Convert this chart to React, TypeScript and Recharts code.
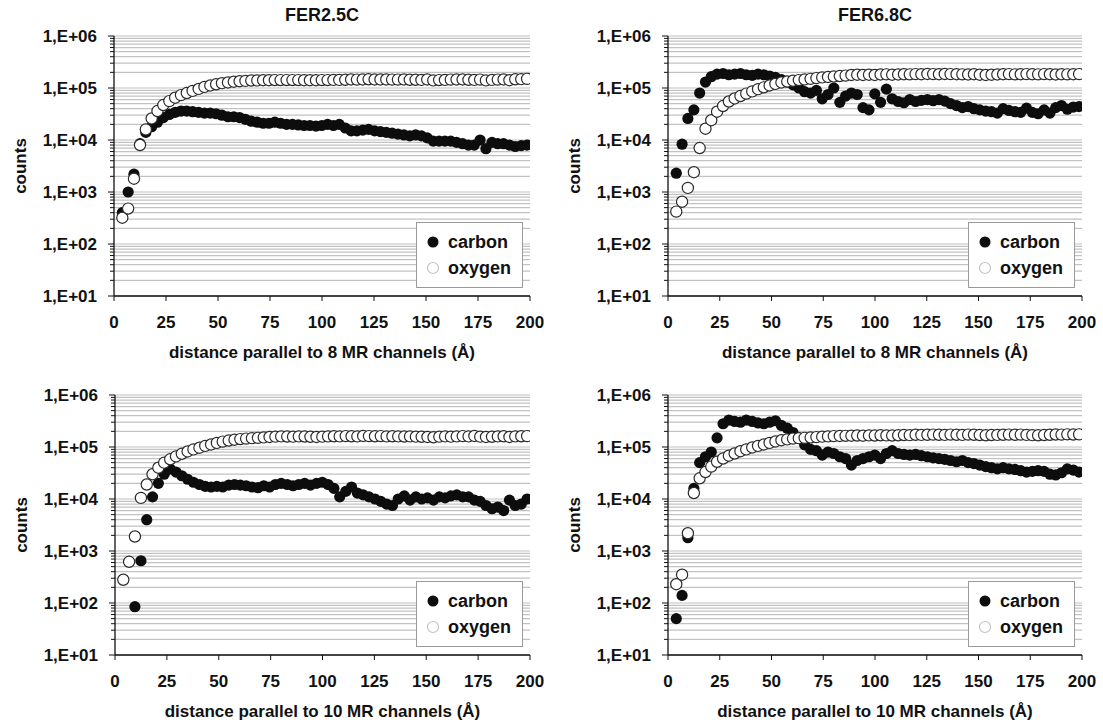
import React from 'react';
import { ScatterChart, Scatter, XAxis, YAxis, CartesianGrid, Legend, Label } from 'recharts';

// distance along the channel (Å), shared by all four profiles
const DISTANCE = [4.0, 6.8, 9.6, 12.5, 15.3, 18.1, 20.9, 23.7, 26.6, 29.4, 32.2, 35.0, 37.8, 40.7, 43.5, 46.3, 49.1, 51.9, 54.8, 57.6, 60.4, 63.2, 66.0, 68.9, 71.7, 74.5, 77.3, 80.1, 83.0, 85.8, 88.6, 91.4, 94.2, 97.1, 99.9, 102.7, 105.5, 108.3, 111.2, 114.0, 116.8, 119.6, 122.4, 125.3, 128.1, 130.9, 133.7, 136.5, 139.4, 142.2, 145.0, 147.8, 150.6, 153.5, 156.3, 159.1, 161.9, 164.7, 167.6, 170.4, 173.2, 176.0, 178.8, 181.7, 184.5, 187.3, 190.1, 192.9, 195.8, 198.6];

// FER2.5C, parallel to 8 MR channels
const FER25_8MR_CARBON = [400, 1000, 2200, 8500, 14000, 18000, 22000, 27000, 31000, 34000, 36000, 36000, 35000, 34000, 33000, 33000, 32000, 30000, 28000, 28000, 27000, 25000, 23000, 22000, 21000, 21000, 22000, 21000, 20000, 20000, 19500, 19000, 19000, 18500, 19000, 20000, 19000, 20000, 17000, 15000, 15000, 15500, 16000, 15000, 14500, 14000, 13500, 13000, 12500, 12000, 12500, 12000, 11000, 9500, 9500, 9500, 9500, 9000, 8500, 8000, 8000, 10000, 6800, 9000, 8500, 8500, 8000, 7500, 7800, 8000];
const FER25_8MR_OXYGEN = [320, 480, 1800, 8000, 16000, 26000, 36000, 47000, 56000, 65000, 73000, 80000, 88000, 96000, 105000, 112000, 118000, 124000, 128000, 132000, 135000, 137000, 139000, 140000, 141000, 141000, 142000, 142000, 142000, 142000, 142000, 141000, 141000, 141000, 142000, 142000, 143000, 143000, 144000, 146000, 145000, 146000, 147000, 146000, 146000, 146000, 145000, 145000, 146000, 144000, 144000, 143000, 146000, 140000, 142000, 143000, 145000, 146000, 146000, 144000, 143000, 145000, 140000, 143000, 145000, 146000, 141000, 147000, 148000, 150000];

// FER6.8C, parallel to 8 MR channels
const FER68_8MR_CARBON = [2300, 8300, 26000, 38000, 80000, 130000, 165000, 185000, 190000, 180000, 185000, 190000, 180000, 175000, 185000, 180000, 170000, 160000, 145000, 130000, 115000, 100000, 85000, 80000, 90000, 62000, 75000, 100000, 53000, 70000, 80000, 75000, 42000, 38000, 77000, 53000, 95000, 62000, 55000, 52000, 60000, 55000, 58000, 60000, 57000, 60000, 56000, 50000, 46000, 42000, 44000, 40000, 38000, 36000, 35000, 33000, 40000, 37000, 35000, 34000, 41000, 34000, 32000, 38000, 33000, 42000, 46000, 39000, 43000, 44000];
const FER68_8MR_OXYGEN = [420, 650, 1200, 2400, 7000, 16500, 24000, 35000, 45000, 55000, 63000, 70000, 78000, 86000, 95000, 103000, 112000, 120000, 128000, 133000, 138000, 142000, 146000, 150000, 155000, 160000, 163000, 166000, 170000, 173000, 178000, 180000, 178000, 180000, 178000, 182000, 183000, 180000, 182000, 184000, 183000, 185000, 184000, 186000, 185000, 184000, 186000, 185000, 184000, 183000, 182000, 184000, 180000, 178000, 180000, 182000, 184000, 185000, 183000, 184000, 185000, 184000, 183000, 185000, 184000, 182000, 184000, 183000, 184000, 185000];

// FER2.5C, parallel to 10 MR channels
const FER25_10MR_CARBON = [null, null, 85, 650, 4000, 11000, 20000, 30000, 38000, 33000, 28000, 24000, 21000, 19000, 17500, 17000, 17500, 17000, 18500, 19000, 18500, 18000, 17000, 16500, 18000, 17000, 19000, 20000, 19000, 18000, 19000, 20000, 18500, 20000, 21000, 19000, 16000, 11000, 14000, 17000, 13000, 12000, 11000, 10000, 9000, 8000, 7500, 10000, 11500, 9500, 11000, 10000, 10500, 9500, 11000, 10500, 11500, 12000, 11000, 11000, 9500, 9000, 7500, 6500, 7000, 6000, 9500, 7500, 8000, 10000];
const FER25_10MR_OXYGEN = [280, 620, 1900, 10500, 19000, 30000, 40000, 50000, 58000, 66000, 74000, 82000, 90000, 97000, 105000, 112000, 120000, 127000, 133000, 138000, 142000, 145000, 148000, 150000, 153000, 156000, 158000, 160000, 159000, 158000, 160000, 159000, 157000, 156000, 158000, 160000, 161000, 160000, 162000, 161000, 160000, 163000, 162000, 161000, 162000, 160000, 161000, 160000, 159000, 160000, 158000, 157000, 156000, 154000, 158000, 160000, 158000, 160000, 162000, 160000, 163000, 158000, 156000, 157000, 160000, 161000, 156000, 160000, 161000, 162000];

// FER6.8C, parallel to 10 MR channels
const FER68_10MR_CARBON = [50, 140, 1800, 16000, 50000, 65000, 80000, 150000, 280000, 330000, 310000, 300000, 330000, 310000, 290000, 280000, 300000, 320000, 260000, 230000, 190000, 150000, 110000, 90000, 85000, 70000, 80000, 75000, 65000, 60000, 45000, 55000, 60000, 65000, 70000, 60000, 75000, 85000, 75000, 72000, 70000, 72000, 68000, 65000, 62000, 60000, 58000, 55000, 52000, 55000, 50000, 48000, 45000, 42000, 40000, 38000, 40000, 38000, 37000, 35000, 33000, 34000, 35000, 34000, 30000, 29000, 32000, 38000, 36000, 33000];
const FER68_10MR_OXYGEN = [230, 350, 2200, 13000, 25000, 33000, 42000, 52000, 60000, 68000, 75000, 83000, 90000, 98000, 105000, 112000, 120000, 128000, 135000, 140000, 145000, 148000, 150000, 152000, 155000, 158000, 160000, 162000, 163000, 164000, 165000, 166000, 165000, 167000, 166000, 168000, 167000, 166000, 168000, 170000, 169000, 172000, 171000, 172000, 173000, 172000, 171000, 173000, 172000, 171000, 173000, 172000, 170000, 168000, 170000, 171000, 172000, 173000, 172000, 173000, 171000, 169000, 168000, 170000, 172000, 174000, 173000, 175000, 174000, 175000];

const X_TICKS = [0, 25, 50, 75, 100, 125, 150, 175, 200];
const Y_MAJOR_TICKS = [10, 100, 1000, 10000, 100000, 1000000];
const Y_MAJOR_LABELS = ['1,E+01', '1,E+02', '1,E+03', '1,E+04', '1,E+05', '1,E+06'];
const Y_MINOR_FACTORS = [2, 3, 4, 5, 6, 7, 8, 9];
const Y_TICKS: number[] = [];
Y_MAJOR_TICKS.forEach((m, i) => {
  Y_TICKS.push(m);
  if (i < Y_MAJOR_TICKS.length - 1) Y_MINOR_FACTORS.forEach((f) => Y_TICKS.push(m * f));
});

const FONT = '"Liberation Sans", Arial, Helvetica, sans-serif';
const INK = '#111';

const toPoints = (vals: (number | null)[]) =>
  DISTANCE.map((x, i) => ({ x, y: vals[i] })).filter((p) => p.y != null);

const CarbonDot = (p: any) => <circle cx={p.cx} cy={p.cy} r={5.6} fill="#0d0d0d" />;
const OxygenDot = (p: any) => (
  <circle cx={p.cx} cy={p.cy} r={5.6} fill="#ffffff" stroke="#2a2a2a" strokeWidth={1.2} />
);

const YTick = (props: any) => {
  const { x, y, payload } = props;
  const idx = Y_MAJOR_TICKS.indexOf(payload.value);
  const major = idx >= 0;
  return (
    <g>
      <line x1={x - (major ? 6 : 4)} x2={x} y1={y} y2={y} stroke={INK} strokeWidth={1} />
      {major && (
        <text x={x - 17} y={y} dy="0.36em" textAnchor="end" fill={INK} fontSize={17} fontWeight={700} fontFamily={FONT}>
          {Y_MAJOR_LABELS[idx]}
        </text>
      )}
    </g>
  );
};

const LegendBox = (props: any) => {
  const payload = props.payload || [];
  return (
    <div style={{ width: 107, height: 66, boxSizing: 'border-box', border: '1px solid #9a9a9a', background: '#fff', position: 'relative', fontFamily: FONT, fontWeight: 700, fontSize: 18, color: INK }}>
      {payload.map((e: any, i: number) => (
        <div key={e.value} style={{ position: 'absolute', left: 0, top: 8 + i * 26, height: 22, display: 'flex', alignItems: 'center' }}>
          <svg width={31} height={22} style={{ display: 'block' }}>
            {e.value === 'carbon' ? (
              <circle cx={16} cy={11} r={5.5} fill="#0d0d0d" />
            ) : (
              <circle cx={16} cy={11} r={5.5} fill="#fff" stroke="#c4c4c4" strokeWidth={1.2} />
            )}
          </svg>
          <span style={{ lineHeight: '22px' }}>{e.value}</span>
        </div>
      ))}
    </div>
  );
};

type PanelProps = {
  title: string;
  xTitle: string;
  carbon: (number | null)[];
  oxygen: number[];
  boxLeft: number;
  boxTop: number;
  boxWidth: number;
  boxHeight: number;
  plotLeft: number;
  plotTop: number;
  plotRight: number;
  plotBottom: number;
};

function Panel(p: PanelProps) {
  const margin = {
    left: p.plotLeft - p.boxLeft - 1,
    top: p.plotTop - p.boxTop,
    right: p.boxLeft + p.boxWidth - p.plotRight,
    bottom: p.boxTop + p.boxHeight - p.plotBottom - 1,
  };
  const plotW = p.plotRight - p.plotLeft;
  const plotH = p.plotBottom - p.plotTop;
  const legendLeft = p.plotRight - 7 - 107 - p.boxLeft;
  const legendTop = p.plotBottom - 74 - p.boxTop;
  const axisStyle = { stroke: INK, strokeWidth: 1.3 };
  const lx = p.plotLeft - p.boxLeft;
  const ly = p.plotTop - p.boxTop;

  const yLabel = () => {
    const cx = lx - 94;
    const cy = ly + plotH / 2;
    return (
      <g>
        <text x={cx} y={cy} transform={`rotate(-90 ${cx} ${cy})`} textAnchor="middle" dy="0.36em" fill={INK} fontSize={17} fontWeight={700} fontFamily={FONT}>
          counts
        </text>
        <text x={lx + plotW / 2} y={ly - 21} textAnchor="middle" dy="0.36em" fill={INK} fontSize={18} fontWeight={700} fontFamily={FONT}>
          {p.title}
        </text>
      </g>
    );
  };
  const xLabel = () => (
    <text x={lx + plotW / 2} y={ly + plotH + 56} textAnchor="middle" dy="0.36em" fill={INK} fontSize={17} fontWeight={700} fontFamily={FONT}>
      {p.xTitle}
    </text>
  );

  return (
    <div style={{ position: 'absolute', left: p.boxLeft, top: p.boxTop }}>
      <ScatterChart width={p.boxWidth} height={p.boxHeight} margin={margin}>
        <CartesianGrid horizontal vertical={false} stroke="#c2c2c2" strokeWidth={1.2} />
        <XAxis
          type="number"
          dataKey="x"
          domain={[0, 200]}
          ticks={X_TICKS}
          interval={0}
          height={1}
          tickSize={5}
          tickMargin={15}
          axisLine={axisStyle}
          tickLine={{ stroke: INK, strokeWidth: 1 }}
          tick={{ fill: INK, fontSize: 17, fontWeight: 700, fontFamily: FONT }}
          allowDataOverflow
        >
          <Label content={xLabel} />
        </XAxis>
        <YAxis
          type="number"
          dataKey="y"
          scale="log"
          domain={[10, 1000000]}
          ticks={Y_TICKS}
          interval={0}
          width={1}
          tickSize={0}
          tickMargin={0}
          tick={<YTick />}
          tickLine={false}
          axisLine={axisStyle}
          allowDataOverflow
        >
          <Label content={yLabel} />
        </YAxis>
        <Scatter name="carbon" data={toPoints(p.carbon)} fill="#0d0d0d" shape={CarbonDot} isAnimationActive={false} />
        <Scatter name="oxygen" data={toPoints(p.oxygen)} fill="#ffffff" shape={OxygenDot} isAnimationActive={false} />
        <Legend
          layout="vertical"
          align="center"
          verticalAlign="middle"
          content={<LegendBox />}
          wrapperStyle={{ left: legendLeft, top: legendTop, width: 107, height: 66 }}
        />
      </ScatterChart>
    </div>
  );
}

export default function App() {
  return (
    <div style={{ position: 'absolute', left: 0, top: 0, width: 1103, height: 720, background: '#fff', overflow: 'hidden' }}>
      <Panel title="FER2.5C" xTitle="distance parallel to 8 MR channels (Å)" carbon={FER25_8MR_CARBON} oxygen={FER25_8MR_OXYGEN}
        boxLeft={0} boxTop={0} boxWidth={551} boxHeight={362} plotLeft={114} plotTop={36} plotRight={530} plotBottom={296} />
      <Panel title="FER6.8C" xTitle="distance parallel to 8 MR channels (Å)" carbon={FER68_8MR_CARBON} oxygen={FER68_8MR_OXYGEN}
        boxLeft={551} boxTop={0} boxWidth={552} boxHeight={362} plotLeft={668} plotTop={36} plotRight={1082} plotBottom={296} />
      <Panel title="" xTitle="distance parallel to 10 MR channels (Å)" carbon={FER25_10MR_CARBON} oxygen={FER25_10MR_OXYGEN}
        boxLeft={0} boxTop={362} boxWidth={551} boxHeight={358} plotLeft={115} plotTop={395} plotRight={530} plotBottom={655} />
      <Panel title="" xTitle="distance parallel to 10 MR channels (Å)" carbon={FER68_10MR_CARBON} oxygen={FER68_10MR_OXYGEN}
        boxLeft={551} boxTop={362} boxWidth={552} boxHeight={358} plotLeft={668} plotTop={395} plotRight={1082} plotBottom={655} />
    </div>
  );
}
